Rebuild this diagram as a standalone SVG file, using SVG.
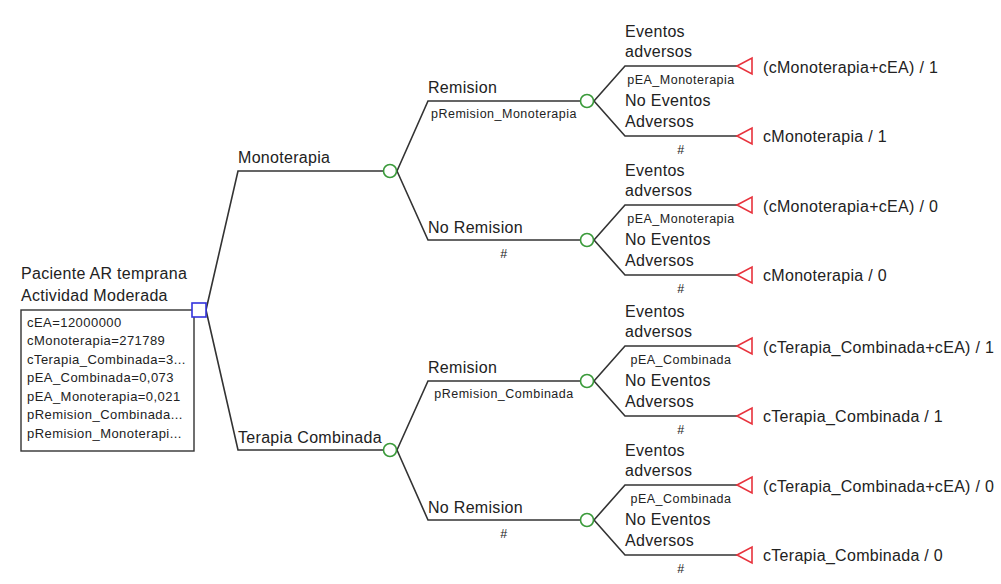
<svg xmlns="http://www.w3.org/2000/svg" width="1001" height="584" viewBox="0 0 1001 584">
<style>
text{font-family:"Liberation Sans",Arial,sans-serif;fill:#222}
.m{font-size:16px;letter-spacing:0.3px}
.s{font-size:12.5px;letter-spacing:0.5px}
.b{font-size:13px;letter-spacing:0.45px}
.c{text-anchor:middle}
.ln{fill:none;stroke:#333;stroke-width:1.6}
.ch{fill:#fff;stroke:#3a9a3a;stroke-width:1.6}
.tm{fill:#fff;stroke:#e8323c;stroke-width:1.6}
.dc{fill:#fff;stroke:#3333dd;stroke-width:1.6}
.box{fill:#fff;stroke:#333;stroke-width:1.4}
</style>
<rect width="1001" height="584" fill="#fff"/>
<g id="connectors">
<path class="ln" d="M206,310 L238,171 L383,171"/>
<path class="ln" d="M206,310 L238,450 L383,450"/>
<path class="ln" d="M397,171 L428,101 L580,101"/>
<path class="ln" d="M397,171 L428,240 L580,240"/>
<path class="ln" d="M397,450 L428,381 L580,381"/>
<path class="ln" d="M397,450 L428,520 L580,520"/>
<path class="ln" d="M594,101 L625,66 L737,66"/>
<path class="ln" d="M594,101 L625,136 L737,136"/>
<path class="ln" d="M594,240 L625,205 L737,205"/>
<path class="ln" d="M594,240 L625,275 L737,275"/>
<path class="ln" d="M594,381 L625,346 L737,346"/>
<path class="ln" d="M594,381 L625,416 L737,416"/>
<path class="ln" d="M594,520 L625,485 L737,485"/>
<path class="ln" d="M594,520 L625,555 L737,555"/>
</g>
<g id="root">
<text class="m" x="21" y="279">Paciente AR temprana</text>
<text class="m" x="21" y="301">Actividad Moderada</text>
<rect class="box" x="21" y="310" width="173" height="141"/>
<text class="b" x="27" y="327">cEA=12000000</text>
<text class="b" x="27" y="345">cMonoterapia=271789</text>
<text class="b" x="27" y="364">cTerapia_Combinada=3...</text>
<text class="b" x="27" y="382">pEA_Combinada=0,073</text>
<text class="b" x="27" y="401">pEA_Monoterapia=0,021</text>
<text class="b" x="27" y="419">pRemision_Combinada...</text>
<text class="b" x="27" y="438">pRemision_Monoterapi...</text>
<rect class="dc" x="192" y="303" width="14" height="14"/>
</g>
<g id="monoterapia">
<text class="m" x="238" y="163">Monoterapia</text>
<circle class="ch" cx="390" cy="171" r="6.5"/>
</g>
<g id="terapia-combinada">
<text class="m" x="238" y="443">Terapia Combinada</text>
<circle class="ch" cx="390" cy="450" r="6.5"/>
</g>
<g id="mono-remision">
<text class="m" x="428" y="93">Remision</text>
<text class="s c" x="504" y="118">pRemision_Monoterapia</text>
<circle class="ch" cx="587" cy="101" r="6.5"/>
</g>
<g id="mono-noremision">
<text class="m" x="428" y="233">No Remision</text>
<text class="s c" x="504" y="258">#</text>
<circle class="ch" cx="587" cy="240" r="6.5"/>
</g>
<g id="comb-remision">
<text class="m" x="428" y="373">Remision</text>
<text class="s c" x="504" y="398">pRemision_Combinada</text>
<circle class="ch" cx="587" cy="381" r="6.5"/>
</g>
<g id="comb-noremision">
<text class="m" x="428" y="513">No Remision</text>
<text class="s c" x="504" y="538">#</text>
<circle class="ch" cx="587" cy="520" r="6.5"/>
</g>
<g id="t1">
<text class="m" x="625" y="37">Eventos</text>
<text class="m" x="625" y="57">adversos</text>
<text class="s c" x="681" y="84">pEA_Monoterapia</text>
<polygon class="tm" points="737,66 752,58 752,74"/>
<text class="m" x="763" y="73">(cMonoterapia+cEA) / 1</text>
</g>
<g id="t2">
<text class="m" x="625" y="106">No Eventos</text>
<text class="m" x="625" y="127">Adversos</text>
<text class="s c" x="681" y="154">#</text>
<polygon class="tm" points="737,136 752,128 752,144"/>
<text class="m" x="763" y="142">cMonoterapia / 1</text>
</g>
<g id="t3">
<text class="m" x="625" y="176">Eventos</text>
<text class="m" x="625" y="196">adversos</text>
<text class="s c" x="681" y="223">pEA_Monoterapia</text>
<polygon class="tm" points="737,205 752,197 752,213"/>
<text class="m" x="763" y="212">(cMonoterapia+cEA) / 0</text>
</g>
<g id="t4">
<text class="m" x="625" y="245">No Eventos</text>
<text class="m" x="625" y="266">Adversos</text>
<text class="s c" x="681" y="293">#</text>
<polygon class="tm" points="737,275 752,267 752,283"/>
<text class="m" x="763" y="281">cMonoterapia / 0</text>
</g>
<g id="t5">
<text class="m" x="625" y="317">Eventos</text>
<text class="m" x="625" y="337">adversos</text>
<text class="s c" x="681" y="364">pEA_Combinada</text>
<polygon class="tm" points="737,346 752,338 752,354"/>
<text class="m" x="763" y="353">(cTerapia_Combinada+cEA) / 1</text>
</g>
<g id="t6">
<text class="m" x="625" y="386">No Eventos</text>
<text class="m" x="625" y="407">Adversos</text>
<text class="s c" x="681" y="434">#</text>
<polygon class="tm" points="737,416 752,408 752,424"/>
<text class="m" x="763" y="422">cTerapia_Combinada / 1</text>
</g>
<g id="t7">
<text class="m" x="625" y="456">Eventos</text>
<text class="m" x="625" y="476">adversos</text>
<text class="s c" x="681" y="503">pEA_Combinada</text>
<polygon class="tm" points="737,485 752,477 752,493"/>
<text class="m" x="763" y="492">(cTerapia_Combinada+cEA) / 0</text>
</g>
<g id="t8">
<text class="m" x="625" y="525">No Eventos</text>
<text class="m" x="625" y="546">Adversos</text>
<text class="s c" x="681" y="573">#</text>
<polygon class="tm" points="737,555 752,547 752,563"/>
<text class="m" x="763" y="561">cTerapia_Combinada / 0</text>
</g>
</svg>
